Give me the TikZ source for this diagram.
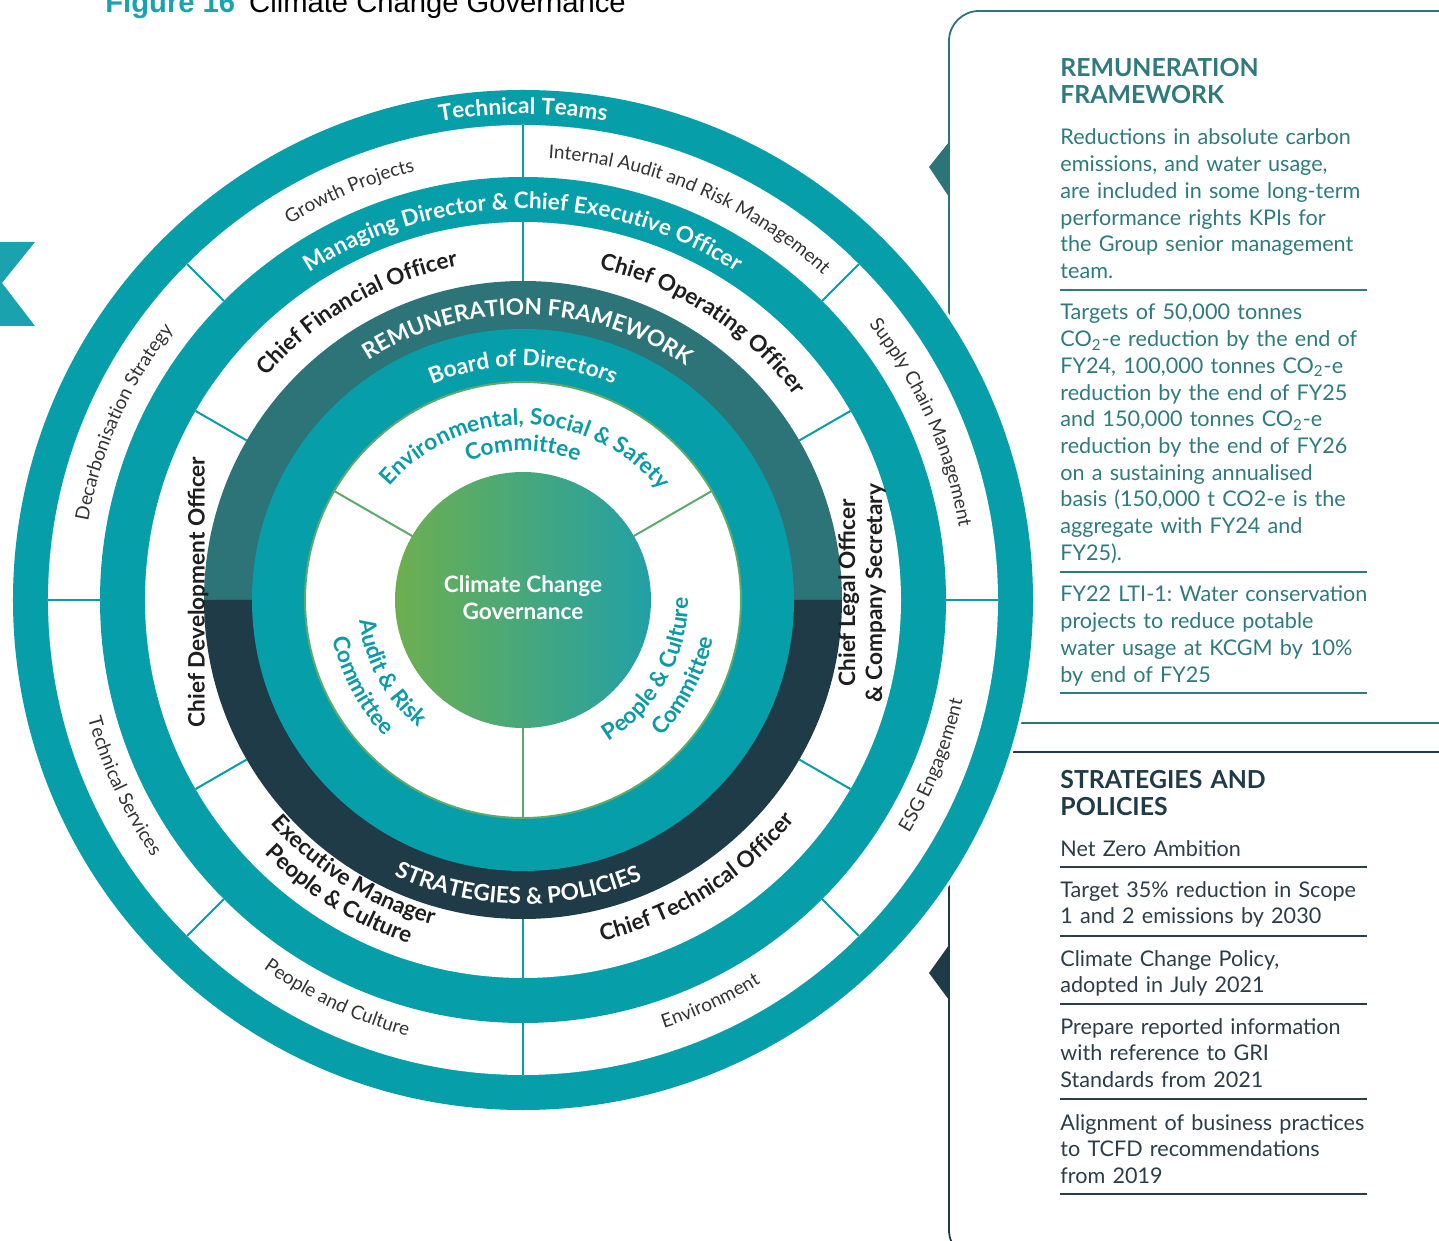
\documentclass[tikz,border=0pt]{standalone}
\usepackage{fontspec}
\setmainfont{Lato}
\newfontfamily\titlefont{Liberation Sans}
\usetikzlibrary{decorations.text}
\frenchspacing

\definecolor{ringteal}{HTML}{069EA8}
\definecolor{remteal}{HTML}{2C7478}
\definecolor{stratnavy}{HTML}{1F3B47}
\definecolor{cgreen}{HTML}{6DAF50}
\definecolor{cteal}{HTML}{22A0A6}
\definecolor{linegreen}{HTML}{5DAA6A}
\definecolor{inktext}{HTML}{1E1E1E}
\definecolor{thingrey}{HTML}{333333}
\definecolor{commteal}{HTML}{0A9BA6}
\definecolor{figteal}{HTML}{1AA3AE}
\definecolor{remtext}{HTML}{2E7A7D}
\definecolor{strattext}{HTML}{2B3D47}

\newcommand{\fthin}{\fontsize{9.5}{11}\selectfont}
\newcommand{\fbold}{\fontsize{11.3}{13.5}\selectfont\bfseries}
\newcommand{\fbody}{\fontsize{10.8}{13.35}\selectfont}
\newcommand{\fhead}{\fontsize{12.4}{13.5}\selectfont\bfseries}

\tikzset{
  arclabel/.style 2 args={decorate, decoration={text along path, text align=center, text color=#1, text={#2}}},
  divider/.style={draw=ringteal, line width=1pt},
  para/.style={anchor=base west, inner sep=0pt, align=left, text width=175pt, font=\fbody},
  head/.style={anchor=base west, inner sep=0pt, align=left, text width=175pt, font=\fhead},
}

\begin{document}
\begin{tikzpicture}[x=0.5pt,y=0.5pt]
	\useasboundingbox (-523,-641) rectangle (916,600);
	\clip (-523,-641) rectangle (916,600);
	% riquadri
	\draw[remteal, line width=0.9pt, rounded corners=15pt] (426,589) rectangle (960,-123);
	\fill[remteal] (426,458) -- (406,433) -- (426,403) -- cycle;
	\draw[stratnavy, line width=0.9pt, rounded corners=15pt] (426,-152) rectangle (960,-660);
	\fill[stratnavy] (426,-345) -- (406,-373) -- (426,-400) -- cycle;
	\fill[figteal] (-523,358) -- (-488,358) -- (-521,317) -- (-488,274) -- (-523,274) -- cycle;
	% anelli
	\fill[white] (0,0) circle (513);
	\fill[ringteal] (0,0) circle (510);
	\fill[white] (0,0) circle (475);
	\fill[ringteal] (0,0) circle (423);
	\fill[white] (0,0) circle (378);
	\fill[remteal] (180:319) arc[start angle=180, end angle=0, radius=319] -- cycle;
	\fill[stratnavy] (0:319) arc[start angle=0, end angle=-180, radius=319] -- cycle;
	\fill[ringteal] (0,0) circle (271);
	\filldraw[fill=white, draw=linegreen, line width=1pt] (0,0) circle (218);
	\shade[left color=cgreen, right color=cteal] (0,0) circle (128);
	\foreach \a in {0,45,...,315}
		\draw[divider] (\a:423) -- (\a:475);
	\foreach \a in {30,90,...,330}
		\draw[divider] (\a:319) -- (\a:378);
	\foreach \a in {30,150,270}
		\draw[linegreen, line width=1pt] (\a:128) -- (\a:218);
	% etichette esterne
	\path[arclabel={thingrey}{|\fthin|Decarbonisation Strategy}] (196:442) arc[start angle=196, end angle=116, radius=442];
	\path[arclabel={thingrey}{|\fthin|Growth Projects}] (153:442) arc[start angle=153, end angle=73, radius=442];
	\path[arclabel={thingrey}{|\fthin|Internal Audit and Risk Management}] (107:442) arc[start angle=107, end angle=27, radius=442];
	\path[arclabel={thingrey}{|\fthin|Supply Chain Management}] (64:442) arc[start angle=64, end angle=-16, radius=442];
	\path[arclabel={thingrey}{|\fthin|ESG Engagement}] (-62:451) arc[start angle=-62, end angle=18, radius=451];
	\path[arclabel={thingrey}{|\fthin|Environment}] (-105:451) arc[start angle=-105, end angle=-25, radius=451];
	\path[arclabel={thingrey}{|\fthin|People and Culture}] (-155:451) arc[start angle=-155, end angle=-75, radius=451];
	\path[arclabel={thingrey}{|\fthin|Technical Services}] (-195:451) arc[start angle=-195, end angle=-115, radius=451];
	% etichette bianche
	\path[arclabel={white}{|\fbold|Technical Teams}] (130:486) arc[start angle=130, end angle=50, radius=486];
	\path[arclabel={white}{|\fbold|Managing Director {\&} Chief Executive Officer}] (150:391) arc[start angle=150, end angle=30, radius=391];
	\path[arclabel={white}{|\fbold|REMUNERATION FRAMEWORK}] (149:285) arc[start angle=149, end angle=29, radius=285];
	\path[arclabel={white}{|\fbold|STRATEGIES {\&} POLICIES}] (-141:304) arc[start angle=-141, end angle=-41, radius=304];
	\path[arclabel={white}{|\fbold|Board of Directors}] (140:234) arc[start angle=140, end angle=40, radius=234];
	% dirigenti
	\path[arclabel={inktext}{|\fbold|Chief Financial Officer}] (160:340) arc[start angle=160, end angle=80, radius=340];
	\path[arclabel={inktext}{|\fbold|Chief Operating Officer}] (97:340) arc[start angle=97, end angle=17, radius=340];
	\path[arclabel={inktext}{|\fbold|Chief Technical Officer}] (-98:350) arc[start angle=-98, end angle=-18, radius=350];
	\path[arclabel={inktext}{|\fbold|Executive Manager}] (-162:337) arc[start angle=-162, end angle=-82, radius=337];
	\path[arclabel={inktext}{|\fbold|People {\&} Culture}] (-162:362) arc[start angle=-162, end angle=-82, radius=362];
	\node[rotate=90, font=\fbold, text=inktext] (cdo) at (-325,8) {Chief Development Officer};
	\node[rotate=90, font=\fbold, text=inktext, align=center] (clo) at (339,7) {Chief Legal Officer\\\& Company Secretary};
	% comitati
	\path[arclabel={commteal}{|\fbold|Environmental, Social {\&} Safety}] (164:175) arc[start angle=164, end angle=14, radius=175];
	\path[arclabel={commteal}{|\fbold|Committee}] (150:149) arc[start angle=150, end angle=30, radius=149];
	\path[arclabel={commteal}{|\fbold|Audit {\&} Risk}] (149:165) arc[start angle=149, end angle=269, radius=165];
	\path[arclabel={commteal}{|\fbold|Committee}] (148:194) arc[start angle=148, end angle=268, radius=194];
	\path[arclabel={commteal}{|\fbold|People {\&} Culture}] (-89:165) arc[start angle=-89, end angle=31, radius=165];
	\path[arclabel={commteal}{|\fbold|Committee}] (-88:194) arc[start angle=-88, end angle=32, radius=194];
	\node[font=\fbold, text=white, align=center] (ccg) at (0,2) {Climate Change\\Governance};
	% titolo
	\node[anchor=base west, inner sep=0pt, font=\titlefont\fontsize{14.6}{16}\selectfont] (titolo) at (-418,587) {\textcolor{figteal}{\bfseries Figure 16}\hspace{7pt}Climate Change Governance};
	% testi dei riquadri
	\node[head, text=remtext] (remhead) at (537,523) {REMUNERATION\\FRAMEWORK};
	\node[para, text=remtext] (rem1) at (537,455) {Reductions in absolute carbon\\emissions, and water usage,\\are included in some long-term\\performance rights KPIs for\\the Group senior management\\team.};
	\draw[remtext, line width=0.8pt] (537,310) -- (844,310);
	\node[para, text=remtext] (rem2) at (537,280) {Targets of 50,000 tonnes\\CO\textsubscript{2}-e reduction by the end of\\FY24, 100,000 tonnes CO\textsubscript{2}-e\\reduction by the end of FY25\\and 150,000 tonnes CO\textsubscript{2}-e\\reduction by the end of FY26\\on a sustaining annualised\\basis (150,000 t CO2-e is the\\aggregate with FY24 and\\FY25).};
	\draw[remtext, line width=0.8pt] (537,28) -- (844,28);
	\node[para, text=remtext] (rem3) at (537,-2) {FY22 LTI-1: Water conservation\\projects to reduce potable\\water usage at KCGM by 10\%\\by end of FY25};
	\draw[remtext, line width=0.8pt] (537,-93) -- (844,-93);
	\node[head, text=stratnavy] (strathead) at (537,-188) {STRATEGIES AND\\POLICIES};
	\node[para, text=strattext] (strat1) at (537,-256) {Net Zero Ambition};
	\draw[strattext, line width=0.8pt] (537,-267) -- (844,-267);
	\node[para, text=strattext] (strat2) at (537,-297) {Target 35\% reduction in Scope\\1 and 2 emissions by 2030};
	\draw[strattext, line width=0.8pt] (537,-336) -- (844,-336);
	\node[para, text=strattext] (strat3) at (537,-366) {Climate Change Policy,\\adopted in July 2021};
	\draw[strattext, line width=0.8pt] (537,-404) -- (844,-404);
	\node[para, text=strattext] (strat4) at (537,-434) {Prepare reported information\\with reference to GRI\\Standards from 2021};
	\draw[strattext, line width=0.8pt] (537,-499) -- (844,-499);
	\node[para, text=strattext] (strat5) at (537,-530) {Alignment of business practices\\to TCFD recommendations\\from 2019};
	\draw[strattext, line width=0.8pt] (537,-594) -- (844,-594);
\end{tikzpicture}
\end{document}
